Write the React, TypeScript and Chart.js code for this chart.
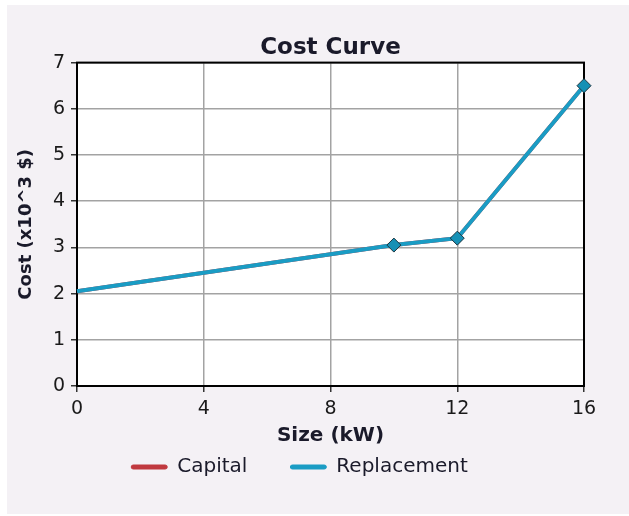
import React, { useEffect, useRef } from "react";
import { Chart, registerables } from "chart.js";

Chart.register(...registerables);

const sizes = [0, 10, 12, 16];
const capitalCost = [2.05, 3.05, 3.2, 6.5];
const replacementCost = [2.05, 3.05, 3.2, 6.5];
const seriesNames = ["Capital", "Replacement"];
const chartTitle = "Cost Curve";
const xTitle = "Size (kW)";
const yTitle = "Cost (x10^3 $)";

const FONT = "'DejaVu Sans', 'Liberation Sans', Arial, sans-serif";
const RED = "#c0393f";
const CYAN = "#1a9cc4";

export default function App() {
  const ref = useRef<HTMLCanvasElement | null>(null);

  useEffect(() => {
    if (!ref.current) return;
    const framePlugin = {
      id: "frame",
      beforeDraw(chart: any) {
        const { ctx, chartArea: a } = chart;
        ctx.save();
        ctx.fillStyle = "#ffffff";
        ctx.fillRect(a.left, a.top, a.right - a.left, a.bottom - a.top);
        ctx.restore();
      },
      beforeDatasetsDraw(chart: any) {
        const { ctx, chartArea: a } = chart;
        ctx.save();
        ctx.strokeStyle = "#000000";
        ctx.lineWidth = 2;
        ctx.strokeRect(a.left, a.top, a.right - a.left, a.bottom - a.top);
        ctx.restore();
      },
    };

    const chart = new Chart(ref.current, {
      type: "line",
      data: {
        datasets: [
          {
            label: seriesNames[0],
            data: sizes.map((x, i) => ({ x, y: capitalCost[i] })),
            borderColor: RED,
            backgroundColor: RED,
            borderWidth: 4,
            pointRadius: 0,
            order: 2,
          },
          {
            label: seriesNames[1],
            data: sizes.map((x, i) => ({ x, y: replacementCost[i] })),
            borderColor: CYAN,
            backgroundColor: CYAN,
            borderWidth: 4,
            pointStyle: "rectRot",
            pointRadius: [0, 7, 7, 7],
            pointBackgroundColor: "#1690b5",
            pointBorderColor: "#1d3540",
            pointBorderWidth: 1,
            order: 1,
            clip: false,
          },
        ],
      },
      options: {
        responsive: false,
        animation: false,
        devicePixelRatio: 1,
        layout: { padding: { left: 15, right: 45, top: 12, bottom: 29 } },
        scales: {
          x: {
            type: "linear",
            min: 0,
            max: 16,
            afterFit: (s: any) => {
              s.height = 28;
            },
            ticks: {
              stepSize: 4,
              padding: 6,
              color: "#1a1a1a",
              font: { family: FONT, size: 19 },
            },
            grid: { color: "#a3a3a3", lineWidth: 1.5, tickLength: 6, tickColor: "#333333" },
            border: { color: "#000000", width: 2 },
            title: {
              display: true,
              text: xTitle,
              color: "#1a1a2a",
              font: { family: FONT, size: 20, weight: "bold" },
              padding: { top: 0, bottom: -34 },
            },
          },
          y: {
            type: "linear",
            min: 0,
            max: 7,
            afterFit: (s: any) => {
              s.width = 62;
            },
            ticks: {
              stepSize: 1,
              padding: 6,
              color: "#1a1a1a",
              font: { family: FONT, size: 19 },
            },
            grid: { color: "#a3a3a3", lineWidth: 1.5, tickLength: 6, tickColor: "#333333" },
            border: { color: "#000000", width: 2 },
            title: {
              display: true,
              text: yTitle,
              color: "#1a1a2a",
              font: { family: FONT, size: 18, weight: "bold" },
              padding: { top: 1, bottom: 0 },
            },
          },
        },
        plugins: {
          title: {
            display: true,
            text: chartTitle,
            fullSize: false,
            color: "#1a1a2a",
            font: { family: FONT, size: 23, weight: "bold" },
            padding: { top: 22, bottom: 1 },
          },
          legend: {
            position: "bottom",
            labels: {
              boxWidth: 36,
              boxHeight: 4,
              padding: 43,
              color: "#1a1a2a",
              font: { family: FONT, size: 20 },
              useBorderRadius: true,
              borderRadius: 2,
              sort: (a: any, b: any) => a.datasetIndex - b.datasetIndex,
              generateLabels: (c: any) =>
                Chart.defaults.plugins.legend.labels
                  .generateLabels(c)
                  .map((l: any) => ({ ...l, lineWidth: 1 })),
            },
          },
          tooltip: { enabled: false },
        },
      },
      plugins: [framePlugin],
    } as any);
    return () => chart.destroy();
  }, []);

  return (
    <div style={{ position: "fixed", left: 0, top: 0, width: 629, height: 516, background: "#ffffff" }}>
      <div style={{ position: "absolute", left: 7, top: 5, width: 622, height: 509, background: "#f4f1f5" }} />
      <canvas ref={ref} width={629} height={516} style={{ position: "absolute", left: 0, top: 0 }} />
    </div>
  );
}
